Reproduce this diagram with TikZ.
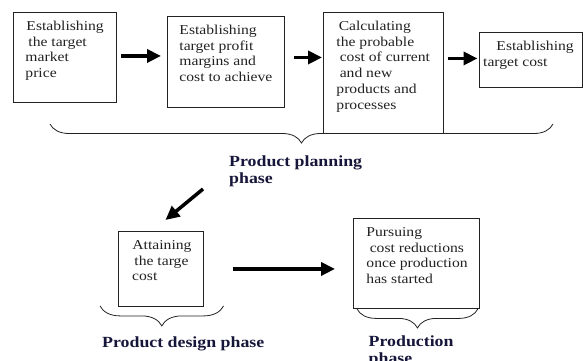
\documentclass[tikz,border=0pt]{standalone}
\usepackage{fontspec}
\setmainfont[FakeStretch=1.15]{Liberation Serif}
\usetikzlibrary{arrows.meta,decorations.pathreplacing}
\definecolor{ink}{HTML}{222222}
\definecolor{navy}{HTML}{16163A}
\newcommand{\boxtext}[3]{\parbox[c][#2][t]{#1}{\rule{0pt}{17.8pt}#3}}
\tikzset{
  stage/.style={draw=ink, line width=0.9pt, inner sep=0pt, anchor=north west,
    font=\fontsize{13.6}{15.8}\selectfont, text=ink},
  arr/.style={line width=3.5pt, draw=black, -{Triangle[length=14pt,width=13pt]}},
  brc/.style={decorate, decoration={brace, mirror, amplitude=#1}, draw=ink, line width=0.8pt},
  phase/.style={font=\fontsize{15.5}{16.7}\selectfont\bfseries, text=navy, anchor=base west, inner sep=0pt}
}
\begin{document}
\begin{tikzpicture}[x=1pt,y=-1pt]
\useasboundingbox (0,0) rectangle (583,360);
% boxes
\node[stage] (b1) at (13,12) {\boxtext{103pt}{90pt}{\hspace*{13pt}Establishing\\\hspace*{15pt}the target\\\hspace*{12pt}market\\\hspace*{12pt}price}};
\node[stage] (b2) at (167,16) {\boxtext{117pt}{91pt}{\hspace*{12pt}Establishing\\\hspace*{12pt}target profit\\\hspace*{12pt}margins and\\\hspace*{12pt}cost to achieve}};
\node[stage] (b3) at (323,12) {\boxtext{120pt}{121pt}{\hspace*{15.3pt}Calculating\\\hspace*{13pt}the probable\\\hspace*{16.3pt}cost of current\\\hspace*{16.3pt}and new\\\hspace*{13pt}products and\\\hspace*{13pt}processes}};
\node[stage] (b4) at (479,32) {\boxtext{103pt}{55pt}{\hspace*{17pt}Establishing\\\hspace*{3.7pt}target cost}};
\node[stage] (b5) at (118,231) {\boxtext{85pt}{75pt}{\hspace*{14pt}Attaining\\\hspace*{16pt}the targe\\\hspace*{13.7pt}cost}};
\node[stage] (b6) at (353,218) {\boxtext{126pt}{90pt}{\hspace*{13pt}Pursuing\\\hspace*{16.3pt}cost reductions\\\hspace*{13pt}once production\\\hspace*{13pt}has started}};
% arrows
\coordinate (a1s) at ([yshift=1.5pt]b1.east);
\draw[arr, shorten <=4pt, shorten >=6pt] (a1s) -- (a1s -| b2.west);
\coordinate (a2s) at ([yshift=4.5pt]b2.east);
\draw[arr, shorten <=9pt, shorten >=1pt] (a2s) -- (a2s -| b3.west);
\coordinate (a3e) at ([yshift=1.5pt]b4.west);
\draw[arr, shorten <=4pt, shorten >=1.5pt] (a3e -| b3.east) -- (a3e);
\coordinate (d0) at (203,189);
\draw[arr] (d0) -- ([shift={(4.5,-11)}]b5.north);
\draw[arr, shorten <=29pt, shorten >=18pt] (b5.east) -- (b5.east -| b6.west);
% braces
\coordinate (tl) at (50,124);
\coordinate (tr) at (553,124);
\draw[brc=19pt] (tl) -- (tr);
\draw[brc=20pt] ([shift={(-18,-1)}]b5.south west) -- ([shift={(19.7,-1)}]b5.south east);
\draw[brc=19pt] ([xshift=4pt]b6.south west) -- ([xshift=-2pt]b6.south east);
% phase labels
\node[phase] (pp) at (229,166.7) {\parbox[t]{150pt}{Product planning\\phase}};
\node[phase] (pd) at (102,347) {Product design phase};
\node[phase] (pr) at (368.5,346.7) {\parbox[t]{100pt}{Production\\phase}};
\end{tikzpicture}
\end{document}
